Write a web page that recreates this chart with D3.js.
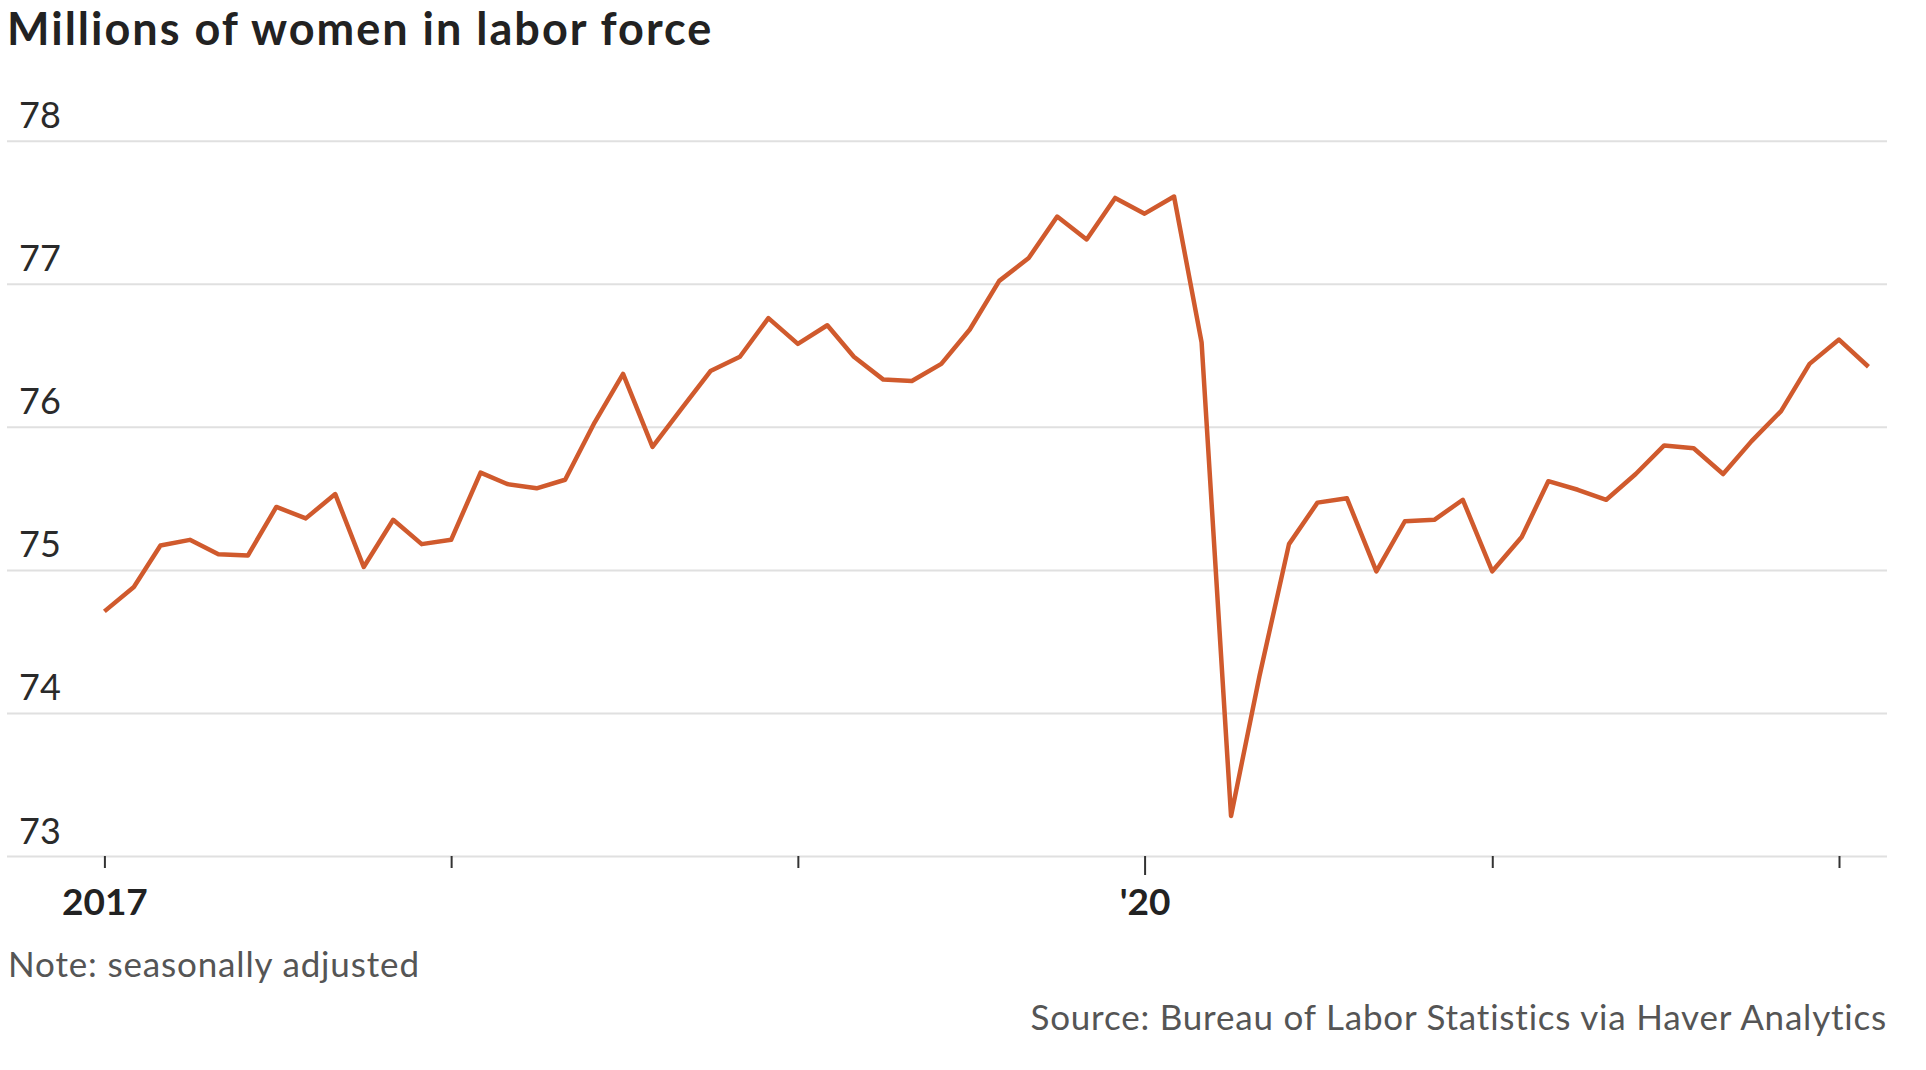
<!DOCTYPE html>
<html>
<head>
<meta charset="utf-8">
<script src="https://cdn.jsdelivr.net/npm/d3@7"></script>
<style>
	body { margin: 0; background: #fff; }
	svg text { font-family: Lato, "Open Sans", sans-serif; }
</style>
</head>
<body>
<div id="chartDiv"></div>
<script>

// monthly values, millions of women in the labor force (seasonally adjusted)
var women2017 = [74.71, 74.88, 75.17, 75.21, 75.11, 75.10, 75.44, 75.36, 75.53, 75.02, 75.35, 75.18];
var women2018 = [75.21, 75.68, 75.60, 75.57, 75.63, 76.03, 76.37, 75.86, 76.13, 76.39, 76.49, 76.76];
var women2019 = [76.58, 76.71, 76.49, 76.33, 76.32, 76.44, 76.68, 77.02, 77.18, 77.47, 77.31, 77.60];
var women2020 = [77.49, 77.61, 76.59, 73.28, 74.26, 75.18, 75.47, 75.50, 74.99, 75.34, 75.35, 75.49];
var women2021 = [74.99, 75.23, 75.62, 75.56, 75.49, 75.67, 75.87, 75.85, 75.67, 75.90, 76.11, 76.44];
var women2022 = [76.61, 76.42];

var years = [2017, 2018, 2019, 2020, 2021, 2022];
var yTicks = [73, 74, 75, 76, 77, 78];
var xTickLabels = { 2017: "2017", 2020: "'20" };

var titleText = "Millions of women in labor force";
var noteText = "Note: seasonally adjusted";
var sourceText = "Source: Bureau of Labor Statistics via Haver Analytics";

;(function() {

	var width = 1926;
	var height = 1070;
	var gridLeft = 7;
	var gridRight = 1887;
	var lineColor = "#d05a2d";

	var series = [women2017, women2018, women2019, women2020, women2021, women2022];
	var data = [];
	series.forEach(function(vals, i) {
		vals.forEach(function(v, m) {
			data.push({ date: new Date(years[i], m, 1), value: v });
		});
	});

	var chart = d3.select("#chartDiv").append("svg")
		.attr("width", width)
		.attr("height", height);

	var xScale = d3.scaleTime()
		.domain([new Date(2017, 0, 1), new Date(2022, 0, 1)])
		.range([104.4, 1839]);

	var yScale = d3.scaleLinear()
		.domain([73, 78])
		.range([856, 140.7]);

	// title
	chart.append("text")
		.attr("x", 7)
		.attr("y", 45)
		.style("font-size", "45px")
		.style("font-weight", "700")
		.style("letter-spacing", "2px")
		.attr("fill", "#222")
		.text(titleText);

	// gridlines + y labels
	var yAxis = d3.axisRight(yScale)
		.tickValues(yTicks)
		.tickSize(gridRight - gridLeft)
		.tickFormat(d3.format("d"));

	var yAxisContainer = chart.append("g")
		.attr("class", "y axis")
		.attr("transform", "translate(" + gridLeft + ",0)")
		.call(yAxis);

	yAxisContainer.select(".domain").remove();
	yAxisContainer.selectAll(".tick line")
		.attr("stroke", "#e0e0e0")
		.attr("stroke-width", 2);
	yAxisContainer.selectAll(".tick text")
		.attr("x", 12)
		.attr("dy", "-13")
		.attr("text-anchor", "start")
		.style("font-size", "36px")
		.attr("fill", "#2a2a2a");

	// x axis
	var xAxis = d3.axisBottom(xScale)
		.tickValues(years.map(function(y) { return new Date(y, 0, 1); }))
		.tickSize(12)
		.tickFormat(function(d) { return xTickLabels[d.getFullYear()] || ""; });

	var xAxisContainer = chart.append("g")
		.attr("class", "x axis")
		.attr("transform", "translate(0," + yScale(73) + ")")
		.call(xAxis);

	xAxisContainer.select(".domain").remove();
	xAxisContainer.selectAll(".tick line")
		.attr("stroke", "#333")
		.attr("stroke-width", 2)
		.attr("y2", function(d) { return d.getFullYear() === 2020 ? 19 : 12; });
	xAxisContainer.selectAll(".tick text")
		.attr("y", 30)
		.attr("dy", "29")
		.style("font-size", "37px")
		.style("font-weight", "700")
		.attr("fill", "#222");

	// line
	var line = d3.line()
		.x(function(d) { return xScale(d.date); })
		.y(function(d) { return yScale(d.value); });

	chart.append("path")
		.datum(data)
		.attr("fill", "none")
		.attr("stroke", lineColor)
		.attr("stroke-width", 4.5)
		.attr("stroke-linejoin", "round")
		.attr("d", line);

	// note and source
	chart.append("text")
		.attr("x", 8)
		.attr("y", 977)
		.style("font-size", "35px")
		.style("letter-spacing", "0.85px")
		.attr("fill", "#555")
		.text(noteText);

	chart.append("text")
		.attr("x", gridRight)
		.attr("y", 1030)
		.attr("text-anchor", "end")
		.style("font-size", "35px")
		.style("letter-spacing", "0.8px")
		.attr("fill", "#555")
		.text(sourceText);

})();
</script>
</body>
</html>
